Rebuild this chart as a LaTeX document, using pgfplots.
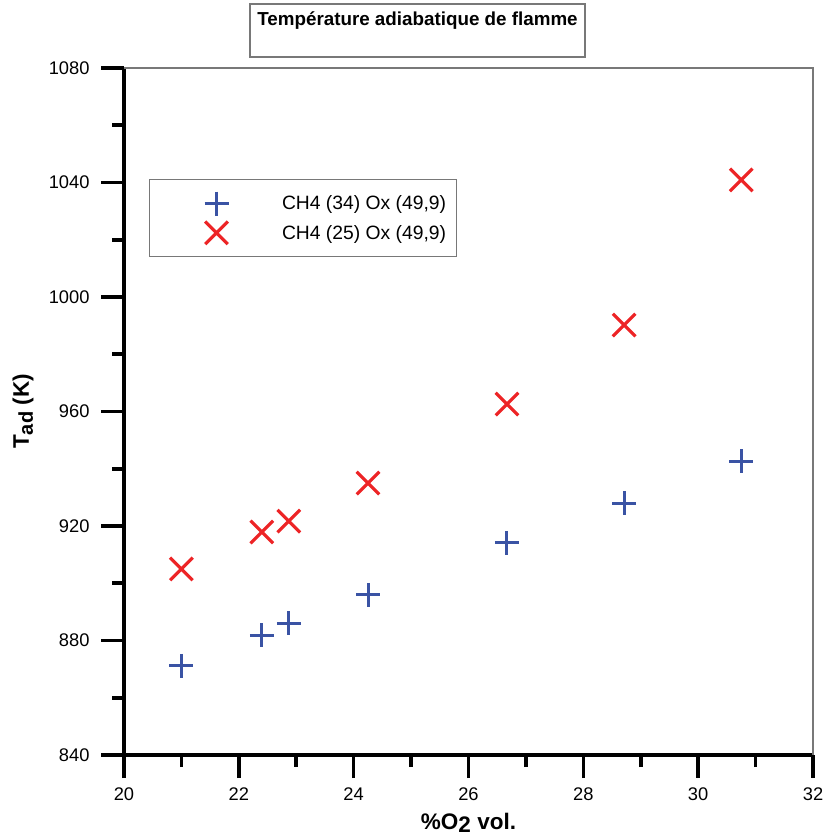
\documentclass[border=0pt]{standalone}
\usepackage{pgfplots}
\pgfplotsset{compat=1.18}
\usepackage{fontspec}
\setmainfont{Liberation Sans}
\definecolor{myblue}{RGB}{58,83,164}
\definecolor{myred}{RGB}{237,36,38}
\definecolor{framegray}{RGB}{120,120,120}
\begin{document}
\begin{tikzpicture}
\begin{axis}[
  name=ax,
  at={(0,0)}, anchor=south west,
  scale only axis,
  width=689pt, height=687pt,
  xmin=20, xmax=32, ymin=840, ymax=1080,
  xtick={20,22,...,32}, ytick={840,880,...,1080},
  minor x tick num=1, minor y tick num=1,
  axis x line*=bottom, axis y line*=left,
  axis line style={line width=3.2pt, black, -},
  tick style={line width=3pt, black},
  tick align=outside,
  major tick length=23pt, minor tick length=12pt,
  /pgf/number format/assume math mode=true,
  /pgf/number format/1000 sep={},
  tick label style={font=\fontsize{18.3}{21}\selectfont},
  xticklabel style={yshift=-6pt},
  yticklabel style={xshift=-8pt},
  xlabel={\textbf{\%O\raisebox{-3pt}{2} vol.}},
  ylabel={\textbf{T\raisebox{-4pt}{\fontsize{20}{23}\selectfont ad} (K)}},
  label style={font=\fontsize{22.5}{26}\selectfont},
  xlabel style={at={(axis description cs:0.5,-0.099)}, anchor=center},
  ylabel style={at={(axis description cs:-0.1466,0.5)}, anchor=center},
  legend style={at={(axis description cs:0.0363,0.8384)}, anchor=north west,
    draw=framegray, line width=1pt, font=\fontsize{19.3}{22}\selectfont,
    inner xsep=8pt, inner ysep=12pt, row sep=6pt,
    nodes={inner sep=2pt},
    /tikz/every odd column/.append style={column sep=51.5pt}},
  legend cell align=left,
  legend image code/.code={\path[draw=none,fill=none] (-59pt,0pt) -- (12pt,0pt); \draw[#1] plot coordinates {(0pt,0pt)};},
  clip=false,
]
\addplot[only marks, mark=+, mark size=12pt, myblue, line width=3pt]
  coordinates {(21.0,871.1) (22.4,881.9) (22.87,886.1) (24.25,895.9) (26.67,914.1) (28.71,928.0) (30.75,942.7)};
\addlegendentry{CH4 (34) Ox (49,9)}
\addplot[only marks, mark=x, mark size=16pt, myred, line width=3.2pt]
  coordinates {(21.0,905.0) (22.4,917.9) (22.87,921.7) (24.25,935.0) (26.67,962.6) (28.71,990.2) (30.75,1040.9)};
\addlegendentry{CH4 (25) Ox (49,9)}
\draw[framegray, line width=1.5pt] (rel axis cs:0,1) -- (rel axis cs:1,1) -- (rel axis cs:1,0);
\pgfplotsinvokeforeach{20,22,24,26,28,30,32}{\draw[black, line width=3.6pt] (axis cs:#1,840) -- ++(0pt,-23pt);}
\pgfplotsinvokeforeach{21,23,25,27,29,31}{\draw[black, line width=3.6pt] (axis cs:#1,840) -- ++(0pt,-12pt);}
\pgfplotsinvokeforeach{840,880,920,960,1000,1040,1080}{\draw[black, line width=3.6pt] (axis cs:20,#1) -- ++(-23pt,0pt);}
\pgfplotsinvokeforeach{860,900,940,980,1020,1060}{\draw[black, line width=3.6pt] (axis cs:20,#1) -- ++(-12pt,0pt);}
\end{axis}
\draw[framegray, line width=1.2pt] (126pt,751pt) rectangle (461pt,698pt);
\node[font=\fontsize{18.8}{22}\selectfont\bfseries] at (293.5pt,734pt) {Température adiabatique de flamme};
\pgfresetboundingbox
\path[use as bounding box] (-124pt,-83pt) rectangle (702pt,755pt);
\end{tikzpicture}
\end{document}
